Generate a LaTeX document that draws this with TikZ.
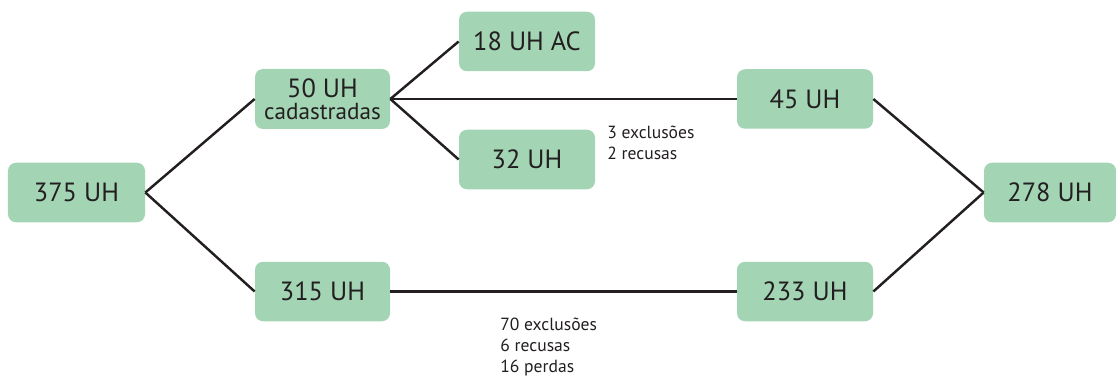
\documentclass[tikz,border=0pt]{standalone}
\usepackage{fontspec}
\setmainfont{PT Sans}
\definecolor{boxgreen}{RGB}{163,213,181}
\definecolor{ink}{RGB}{35,31,32}

\begin{document}
\begin{tikzpicture}[
  box/.style={rectangle,rounded corners=0.16cm,fill=boxgreen,draw=none,
    minimum width=2.72cm,minimum height=1.19cm,inner sep=0pt,align=center,
    text=ink,font=\fontsize{15}{12.5}\selectfont},
  note/.style={draw=none,align=left,inner sep=0pt,text=ink,
    font=\fontsize{10}{11.9}\selectfont},
  link/.style={draw=ink,line width=1.4pt}]

\useasboundingbox (0,0) rectangle (22.32,7.56);

\coordinate (cT) at (1.53,3.71);
\coordinate (cC) at (6.45,5.58);
\coordinate (cR) at (6.45,1.73);
\coordinate (cA) at (10.54,6.73);
\coordinate (cB) at (10.54,4.37);
\coordinate (cD) at (16.10,5.58);
\coordinate (cE) at (16.10,1.73);
\coordinate (cF) at (21.00,3.71);

\node[box,minimum width=2.74cm] (T) at (cT) {375 UH};
\node[box,minimum width=2.70cm,minimum height=1.20cm] (C) at (cC)
  {50 UH\\{\fontsize{13.2}{12.5}\selectfont cadastradas}};
\node[box,minimum width=2.70cm] (R) at (cR) {315 UH};
\node[box] (A) at (cA) {18 UH AC};
\node[box] (B) at (cB) {32 UH};
\node[box] (D) at (cD) {45 UH};
\node[box] (E) at (cE) {233 UH};
\node[box,minimum width=2.64cm] (F) at (cF) {278 UH};

\node[note,anchor=north west] (N1) at (12.14,5.04) {3 exclusões\\2 recusas};
\node[note,anchor=north west] (N2) at (10.00,1.20) {70 exclusões\\6 recusas\\16 perdas};

\draw[link] (T.east) -- (C.west);
\draw[link] (T.east) -- (R.west);
\draw[link] (C.east) -- (A.west);
\draw[link] (C.east) -- (B.west);
\draw[link] (C.east) -- (D.west);
\draw[link] (R.east) -- (E.west);
\draw[link] (D.east) -- (F.west);
\draw[link] (E.east) -- (F.west);

\end{tikzpicture}
\end{document}
